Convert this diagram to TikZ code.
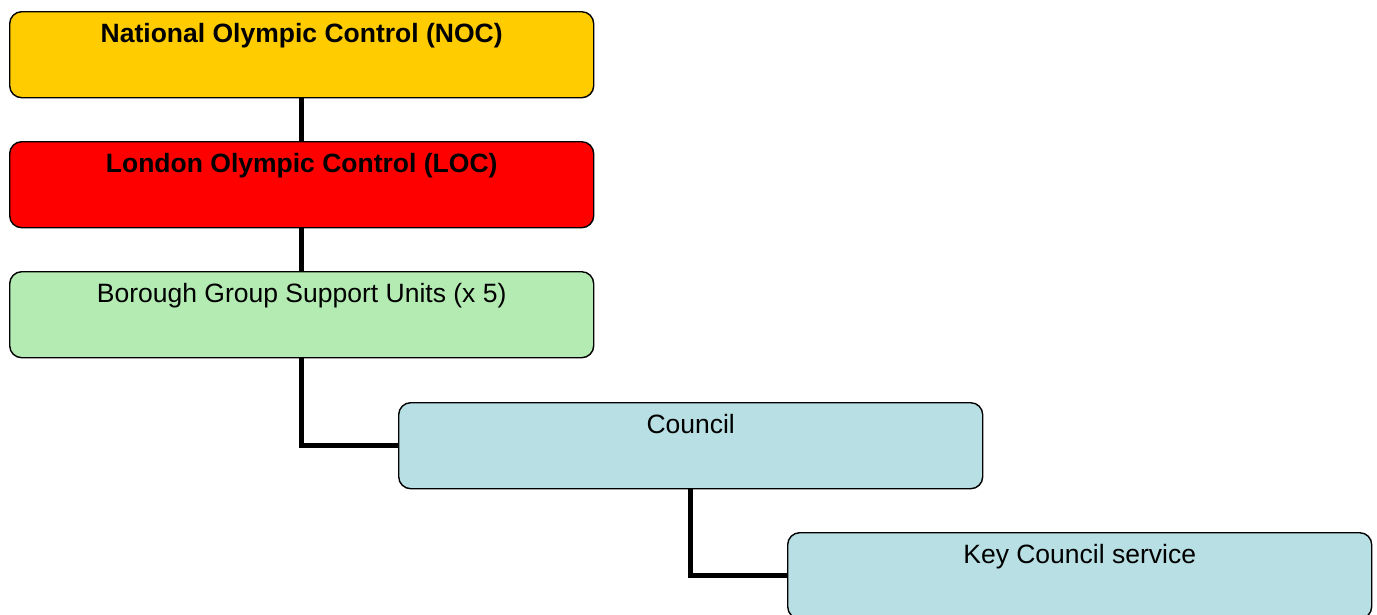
\documentclass[tikz,border=0pt]{standalone}
\usepackage{fontspec}
\setmainfont{Liberation Sans}
\definecolor{nocgold}{HTML}{FFCC00}
\definecolor{locred}{HTML}{FF0000}
\definecolor{bgsugreen}{HTML}{B3EBB3}
\definecolor{councilblue}{HTML}{B8DFE3}
\begin{document}
\begin{tikzpicture}[x=1pt,y=-1pt,
  box/.style={draw=black, line width=1.4pt, rounded corners=12pt, minimum width=584pt, minimum height=86pt, inner sep=0pt, anchor=north west},
  boxtext/.style={font=\fontsize{26.5}{30}\selectfont, anchor=base, inner sep=0pt},
  link/.style={line width=4.5pt, line cap=butt}]
\useasboundingbox (0,0) rectangle (1377,614);
\node[box, fill=nocgold] (noc) at (9,11) {};
\node[box, fill=locred] (loc) at (9,141) {};
\node[box, fill=bgsugreen] (bgsu) at (9,271) {};
\node[box, fill=councilblue] (council) at (398,402) {};
\node[box, fill=councilblue] (key) at (787,532) {};
\node[boxtext, font=\fontsize{26.5}{30}\selectfont\bfseries] (nocT) at ([yshift=-31.5pt]noc.north) {National Olympic Control (NOC)};
\node[boxtext, font=\fontsize{26.5}{30}\selectfont\bfseries] (locT) at ([yshift=-31.5pt]loc.north) {London Olympic Control (LOC)};
\node[boxtext] (bgsuT) at ([yshift=-31.5pt]bgsu.north) {Borough Group Support Units (x 5)};
\node[boxtext] (councilT) at ([yshift=-31.5pt]council.north) {Council};
\node[boxtext] (keyT) at ([yshift=-31.5pt]key.north) {Key Council service};
\draw[link] (noc.south) -- (loc.north);
\draw[link] (loc.south) -- (bgsu.north);
\draw[link] (bgsu.south) |- (council.west);
\draw[link] (council.south) |- (key.west);
\end{tikzpicture}
\end{document}
